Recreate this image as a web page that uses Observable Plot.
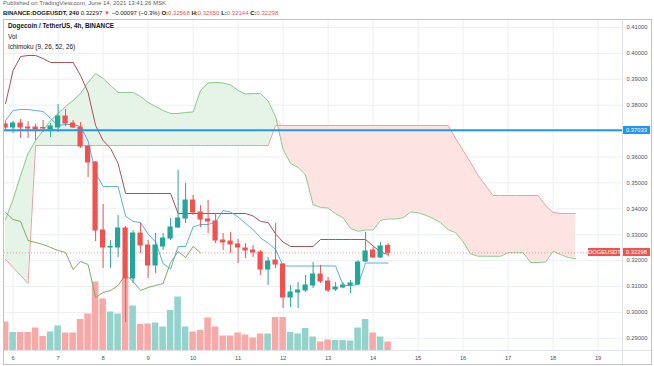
<!DOCTYPE html>
<html><head><meta charset="utf-8">
<script src="https://cdn.jsdelivr.net/npm/d3@7"></script>
<script src="https://cdn.jsdelivr.net/npm/@observablehq/plot@0.6"></script>
<style>
body{margin:0;background:#fff;}
#wrap{position:relative;width:654px;height:366px;overflow:hidden;background:#fff;font-family:"Liberation Sans",Arial,sans-serif;color:#131722;}
#wrap svg{position:absolute;left:0;top:0;}
.t{position:absolute;white-space:nowrap;font-size:6px;line-height:7px;}
.in{font-size:6.4px;line-height:8px;}
.red{color:#ef5350;}
.box{position:absolute;font-size:5.8px;line-height:8px;height:8px;color:#fff;text-align:center;white-space:nowrap;}
</style></head><body><div id="wrap"></div>
<script>
// ---- data (4h candles, first visible candle opens 2021-06-05 20:00 UTC) ----
const firstCandle = Date.UTC(2021, 5, 5, 20);
const stepMs = 4 * 3600 * 1000;
const opens = [.37255,.37139,.37293,.37139,.37139,.37120,.37062,.37139,.37564,.37293,
 .37139,.36405,.35788,.33162,.32506,.32506,.33239,.31309,.33046,.32583,
 .31811,.32544,.32853,.33278,.33625,.34320,.33857,.33587,.33510,.32776,
 .32737,.32622,.32467,.32390,.32313,.31656,.32004,.31849,.30575,.30768,
 .30846,.31039,.31463,.31193,.30884,.30961,.31039,.31077,.31965,.32390,
 .32120,.32568];
const highs = [.37371,.37371,.37448,.37371,.37255,.37409,.37293,.38027,.37834,.37409,
 .37332,.36444,.35826,.34166,.32776,.33741,.33317,.33162,.33432,.32776,
 .33046,.33046,.33625,.35479,.34977,.34514,.34127,.34320,.33819,.33046,
 .33085,.32815,.32660,.32583,.32390,.32120,.33432,.31888,.31039,.31154,
 .31425,.31927,.31811,.31347,.31154,.31154,.31232,.32004,.33085,.32506,
 .32699,.32650];
const lows = [.37023,.36907,.36714,.36714,.36637,.36946,.36753,.36946,.37178,.37100,
 .36328,.35208,.32737,.31695,.31695,.32120,.29610,.31116,.32274,.31309,
 .31502,.32390,.32776,.33239,.33432,.33741,.33278,.33046,.32660,.32390,
 .32274,.31888,.32081,.32120,.31425,.31039,.31695,.30151,.30189,.30151,
 .30768,.30923,.31116,.30768,.30807,.30923,.30730,.31039,.31927,.32081,
 .32081,.32144];
const closes = [.37139,.37293,.37139,.37100,.37062,.37100,.37178,.37564,.37293,.37139,
 .36405,.35788,.33162,.32506,.32530,.33239,.31309,.33046,.32583,.31811,
 .32583,.32853,.33278,.33625,.34320,.33857,.33587,.33510,.32776,.32699,
 .32622,.32506,.32390,.32313,.31656,.31965,.31849,.30575,.30768,.30846,
 .31039,.31463,.31193,.30846,.30961,.31039,.31116,.31927,.32351,.32120,
 .32544,.32298];
const volumes = [57,36,36,36,45,28,37,49,35,35,62,73,137,103,77,73,144,89,52,53,
 55,47,80,107,47,37,40,65,47,29,29,35,31,25,33,33,66,66,36,33,
 44,27,17,21,20,20,19,45,62,35,27,17];
// Ichimoku (9, 26, 52, 26)
const tenkan = [.37409,.37795,.37834,.37834,.37795,.37757,.37486,.37216,.37255,.37255,
 .37178,.36618,.35382,.34861,.34861,.34861,.33722,.33510,.33471,.33027,
 .32718,.31888,.31676,.32544,.32544,.33297,.33394,.33394,.33490,.33934,
 .33876,.33683,.33432,.33201,.32873,.32680,.32429,.31792,.31792,.31792,
 .31792,.31792,.31792,.31792,.31792,.31039,.31039,.31077,.31907,.31907,
 .31907,.31907];
const kijun = [.38066,.39340,.39880,.39919,.39919,.39803,.39649,.39649,.39649,.39649,
 .39147,.38490,.37216,.36637,.36328,.35749,.34591,.34591,.34591,.34591,
 .34591,.34591,.34591,.33819,.33819,.33819,.33819,.33819,.33819,.33819,
 .33819,.33819,.33819,.33722,.33510,.33471,.33027,.32718,.32544,.32544,
 .32544,.32544,.32815,.32815,.32815,.32815,.32815,.32815,.32815,.32564,
 .32332,.32236];
const senkouA = [.33586,.34359,.35286,.36135,.36637,.37023,.37409,.37680,.37950,.38181,
 .38452,.38876,.39224,.39031,.38761,.38490,.38490,.38490,.38336,.38104,
 .37950,.37795,.37680,.37680,.37718,.37738,.38568,.38857,.38877,.38857,
 .38780,.38568,.38433,.38452,.38452,.38163,.37554,.36299,.35749,.35595,
 .35305,.34157,.34051,.34031,.33809,.33655,.33240,.33134,.33182,.33182,
 .33558,.33607,.33607,.33655,.33877,.33848,.33751,.33626,.33462,.33192,
 .33076,.32728,.32255,.32168,.32168,.32168,.32168,.32304,.32304,.32304,
 .31927,.31927,.31946,.32361,.32236,.32120,.32072];
const senkouB = [.32042,.31734,.31425,.31116,.36444,.36444,.36444,.36444,.36444,.36444,
 .36444,.36444,.36444,.36444,.36444,.36444,.36444,.36444,.36444,.36444,
 .36444,.36444,.36444,.36444,.36444,.36444,.36444,.36444,.36444,.36444,
 .36444,.36444,.36444,.36444,.36444,.36444,.37216,.37216,.37216,.37216,
 .37216,.37216,.37216,.37216,.37216,.37216,.37216,.37216,.37216,.37216,
 .37216,.37216,.37216,.37216,.37216,.37216,.37216,.37216,.37216,.37216,
 .36714,.36251,.35788,.35286,.34900,.34514,.34514,.34514,.34514,.34514,
 .34514,.34514,.34127,.33857,.33819,.33819,.33819];
const laggingShift = 25;
const dayLabels = [6,7,8,9,10,11,12,13,14,15,16,17,18,19];
const priceTicks = [0.29,0.30,0.31,0.32,0.33,0.34,0.35,0.36,0.37,0.38,0.39,0.40,0.41];
const markedLevel = 0.37033;
const lastPrice = 0.32298;

// ---- tables ----
const UP = "#26a69a", DN = "#ef5350";
const candles = opens.map((o, i) => ({
  t: new Date(firstCandle + i * stepMs), o, h: highs[i], l: lows[i], c: closes[i], v: volumes[i],
  up: closes[i] >= o
}));
const cloud = senkouA.map((a, j) => ({t: new Date(firstCandle + j * stepMs), a, b: senkouB[j]}));
const lagging = candles.slice(laggingShift).map((d, j) => ({t: candles[j].t, v: d.c}));
const dayDates = dayLabels.map(d => new Date(Date.UTC(2021, 5, d)));
const halfBody = 1.4 * 3600 * 1000, halfVol = 1.75 * 3600 * 1000;

const base = {
  width: 654, height: 366, marginLeft: 4, marginRight: 32, marginTop: 20, marginBottom: 16,
  style: {background: "transparent", fontFamily: "'Liberation Sans', Arial, sans-serif", overflow: "visible"}
};
const xs = {type: "utc", domain: [dayDates[0], dayDates[dayDates.length - 1]], range: [12.6, 597.6]};
const ys = {domain: [0.29, 0.41], range: [337.8, 27], label: null};

const bg = Plot.plot({...base, x: {...xs, axis: null}, y: {...ys, axis: null},
  marks: [
    Plot.gridX(dayDates, {stroke: "#eceff5", strokeOpacity: 1}),
    Plot.gridY(priceTicks, {stroke: "#eceff5", strokeOpacity: 1})
  ]});

const vol = Plot.plot({...base, x: {...xs, axis: null}, y: {domain: [0, 660], range: [350, 20], axis: null},
  color: {type: "identity"},
  marks: [
    Plot.rect(candles, {x1: d => new Date(+d.t - halfVol), x2: d => new Date(+d.t + halfVol),
      y1: d => 0, y2: "v", fill: d => d.up ? "#93d3cc" : "#f7a9a7", clip: true})
  ]});

const main = Plot.plot({...base, x: {...xs}, y: {...ys}, color: {type: "identity"},
  marks: [
    Plot.areaY(cloud, {x: "t", y1: "b", y2: d => Math.max(d.a, d.b), fill: "#e6f3e7", clip: true}),
    Plot.areaY(cloud, {x: "t", y1: "a", y2: d => Math.max(d.a, d.b), fill: "#fde4e2", clip: true}),
    Plot.line(cloud, {x: "t", y: "a", stroke: "#8ccb8f", strokeWidth: 1, clip: true}),
    Plot.line(cloud, {x: "t", y: "b", stroke: "#f0a09c", strokeWidth: 1, clip: true}),
    Plot.line(lagging, {x: "t", y: "v", stroke: "#7fae62", strokeWidth: 1, clip: true}),
    Plot.line(candles, {x: "t", y: (d, i) => kijun[i], stroke: "#a8505a", strokeWidth: 1, clip: true}),
    Plot.line(candles, {x: "t", y: (d, i) => tenkan[i], stroke: "#5aaee8", strokeWidth: 1, clip: true}),
    Plot.ruleY([lastPrice], {stroke: "#ef5350", strokeOpacity: 0.55, strokeDasharray: "1,2", clip: true}),
    Plot.ruleX(candles, {x: "t", y1: "l", y2: "h", stroke: d => d.up ? UP : DN, strokeWidth: 1, clip: true}),
    Plot.rect(candles, {x1: d => new Date(+d.t - halfBody), x2: d => new Date(+d.t + halfBody),
      y1: "o", y2: "c", fill: d => d.up ? UP : DN, insetTop: -0.5, insetBottom: -0.5, clip: true}),
    Plot.ruleY([markedLevel], {stroke: "#2196f3", strokeWidth: 2, clip: true}),
    Plot.axisY(priceTicks, {anchor: "right", tickSize: 0, tickPadding: 4, label: null,
      tickFormat: d => d.toFixed(5), fontSize: 5.8, fill: "#50535e"}),
    Plot.axisX(dayDates, {anchor: "bottom", tickSize: 0, tickPadding: 5, label: null,
      tickFormat: d => String(d.getUTCDate()), fontSize: 5.8, fill: "#50535e"})
  ]});

const wrap = document.getElementById("wrap");
wrap.appendChild(bg);
wrap.appendChild(vol);
wrap.appendChild(main);

function addDiv(cls, css, html) {
  const el = document.createElement("div");
  el.className = cls; el.style.cssText = css; el.innerHTML = html;
  wrap.appendChild(el); return el;
}
// frame and separators
addDiv("", "position:absolute;left:3px;top:19px;width:649px;height:346px;border:1px solid #bfc2c8;box-sizing:border-box;", "");
addDiv("", "position:absolute;left:622px;top:20px;width:1px;height:344px;background:#e0e3eb;", "");
addDiv("", "position:absolute;left:4px;top:350px;width:647px;height:1px;background:#e0e3eb;", "");

// header
addDiv("t", "left:3px;top:0px;color:#5d606b;", "Published on TradingView.com, June 14, 2021 13:41:26 MSK");
addDiv("t", "left:3px;top:10px;", "<b>BINANCE:DOGEUSDT, 240</b> 0.32297 <span class='red'>▼</span> −0.00097 (−0.3%) <b>O:</b><span class='red'>0.32568</span> <b>H:</b><span class='red'>0.32650</span> <b>L:</b><span class='red'>0.32144</span> <b>C:</b><span class='red'>0.32298</span>");
addDiv("t in", "left:8px;top:22px;font-weight:bold;", "Dogecoin / TetherUS, 4h, BINANCE");
addDiv("t in", "left:8px;top:33px;", "Vol");
addDiv("t in", "left:8px;top:43px;", "Ichimoku (9, 26, 52, 26)");

// price tags using the main y scale
const yScale = main.scale("y");
const yb = yScale.apply(markedLevel), yr = yScale.apply(lastPrice);
addDiv("box", `left:623px;top:${yb - 4}px;width:27px;background:#2196f3;`, markedLevel.toFixed(5));
addDiv("box", `left:588px;top:${yr - 4}px;width:32px;background:#ef5350;`, "DOGEUSDT");
addDiv("box", `left:623px;top:${yr - 4}px;width:27px;background:#ef5350;`, lastPrice.toFixed(5));
</script></body></html>
